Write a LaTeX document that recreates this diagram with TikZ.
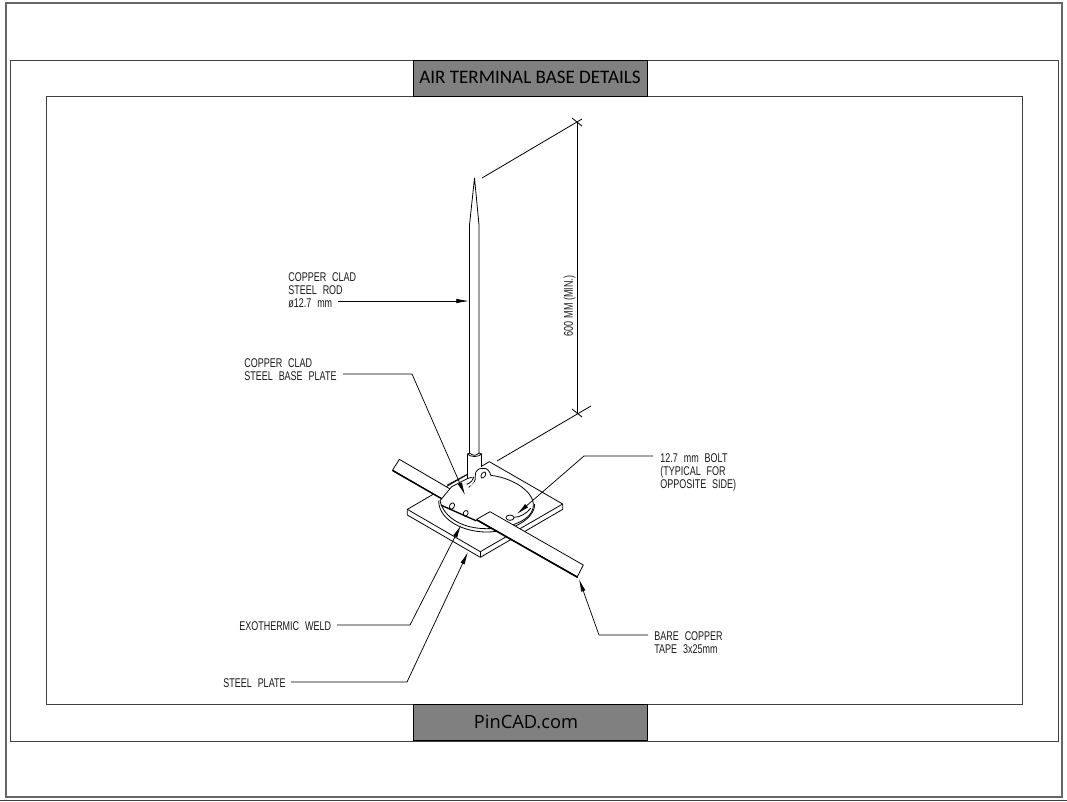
\documentclass[tikz,border=0pt]{standalone}
\usepackage{fontspec}
\usetikzlibrary{arrows.meta}
\setmainfont{Liberation Sans}
\newfontfamily\cadfont[FakeStretch=0.71,WordSpace=2.4]{Liberation Sans}
\newfontfamily\titlefont{Carlito}
\newfontfamily\sitefont{Open Sans}
\tikzset{
  frameline/.style={draw=black!75,line width=0.65pt},
  outerline/.style={draw=black!60,line width=1pt},
  titlebox/.style={draw=black,fill=black!50,line width=0.7pt,minimum width=175.5pt,minimum height=27pt,inner sep=0pt},
  callout/.style={inner sep=0pt,align=left,text=black!90,font=\cadfont\fontsize{9.5}{9.8}\selectfont},
  leader/.style={line width=0.55pt,-{Latex[length=9.5pt,width=3.4pt]}},
  part/.style={draw=black,line width=0.6pt,fill=white,line join=round},
  thin line/.style={line width=0.6pt},
  edge/.style={draw=black,line width=1pt,line cap=round}
}
\begin{document}
\begin{tikzpicture}[x=0.75pt,y=-0.75pt]
\useasboundingbox (0,0) rectangle (1067,801);

\draw[outerline] (6,3) rectangle (1062,797);
\draw[frameline] (0,800.5) -- (1067,800.5);
\draw[frameline] (10,60) rectangle (1058,741);
\draw[frameline] (46,96) rectangle (1022,704);
\node[titlebox,font=\titlefont\fontsize{14.3}{15}\selectfont] (title) at (530,78) {\raisebox{1.2pt}{AIR TERMINAL BASE DETAILS}};
\node[titlebox,font=\sitefont\fontsize{13.7}{15}\selectfont] (site) at (530,722.5) {\raisebox{0.8pt}{PinCAD.com}\hspace*{6pt}};

\begin{scope}[shift={(370,430)},x=0.25pt,y=-0.25pt]
  % steel plate
  \filldraw[part] (112,238) -- (358,95) -- (578,222) -- (578,238) -- (331,382) -- (112,255) -- cycle;
  \draw[thin line] (112,238) -- (331,365) -- (578,222);
  \draw[thin line] (331,365) -- (331,382);
  % tape, far side
  \filldraw[part] (88,88) -- (68,120) -- (260,232) -- (280,200) -- cycle;
  \draw[edge] (68,122) -- (225,212);
  % weld
  \filldraw[part] (206,212) .. controls (206,270) and (280,306) .. (350,306)
    .. controls (420,306) and (494,270) .. (494,222);
  % collar
  \fill[white] (292,72) rectangle (335,150);
  \draw[thin line] (232,165) -- (290,134);
  % base plate
  \filldraw[part] (210,212) -- (245,170) -- (292,146) -- (340,130) -- (362,136)
    .. controls (420,142) and (490,180) .. (490,225)
    .. controls (490,270) and (420,296) .. (350,296)
    .. controls (280,296) and (222,265) .. (210,212) -- cycle;
  \fill[white] (292,72) rectangle (335,140);
  \draw[thin line] (292,72) -- (292,148);
  \draw[thin line] (335,72) -- (335,112);
  \draw[thin line] (292,72) .. controls (302,82) and (325,82) .. (335,72);
  \draw[thin line] (292,72) .. controls (302,66) and (325,66) .. (335,72);
  % lug
  \filldraw[part] (296,172) .. controls (312,165) and (318,150) .. (316,135)
    .. controls (316,122) and (325,115) .. (338,115)
    .. controls (350,113) and (360,122) .. (362,136);
  \fill[white] (300,171) -- (320,150) -- (318,130) -- (362,137) -- (370,175) -- cycle;
  \draw[thin line] (290,163) .. controls (303,158) and (310,150) .. (312,140);
  \draw[thin line,rotate around={-30:(340,135)}] (340,135) ellipse (6 and 10);
  % holes and bolt
  \draw[thin line,rotate around={-25:(246,228)}] (246,228) ellipse (7 and 10);
  \draw[thin line,rotate around={-25:(287,250)}] (287,250) ellipse (7 and 9);
  \draw[thin line] (420,263) ellipse (12 and 8);
  \draw[thin line] (432,262) .. controls (450,262) and (470,250) .. (482,235);
  \draw[edge] (214,226) -- (318,272);
  % tape, near side
  \filldraw[part] (320,268) -- (360,245) -- (640,405) -- (622,440) -- cycle;
  \draw[edge] (320,270) -- (622,442);
\end{scope}

% rod
\filldraw[part] (474.5,178) -- (479,225) -- (479,453) .. controls (476,456) and (473,456) .. (469.5,453) -- (469.5,225) -- cycle;

% dimension
\coordinate (dimtop) at (577,122);
\coordinate (dimbot) at (577,413);
\draw[thin line] (482,178) -- (582,119);
\draw[thin line] (497,461) -- (591,406);
\draw[thin line] (dimtop) -- (dimbot);
\draw[thin line] (572,118) -- (582,126);
\draw[thin line] (572,409) -- (582,417);
\node[callout,rotate=90] (dimtext) at (569.5,306) {600\hspace{2.2pt}MM\hspace{2.2pt}(MIN.)};

% callouts
\node[callout,anchor=west] (rodtext) at (288,290) {COPPER CLAD\\STEEL ROD\\ø12.7 mm};
\node[callout,anchor=west] (basetext) at (244,370) {COPPER CLAD\\STEEL BASE PLATE};
\node[callout,anchor=west] (bolttext) at (660,472.5) {12.7 mm BOLT\\(TYPICAL FOR\\OPPOSITE SIDE)};
\node[callout,anchor=west] (weldtext) at (239,626) {EXOTHERMIC WELD};
\node[callout,anchor=west] (platetext) at (223,683) {STEEL PLATE};
\node[callout,anchor=west] (tapetext) at (654,643) {BARE COPPER\\TAPE 3x25mm};

\coordinate (rodstart) at (338,301);
\coordinate (rodtip) at (469,301);
\coordinate (basestart) at (343,374);
\coordinate (basebend) at (412,374);
\coordinate (basetip) at (465,495);
\coordinate (boltstart) at (653,456);
\coordinate (boltbend) at (584,456);
\coordinate (bolttip) at (517,514);
\coordinate (weldstart) at (337,625);
\coordinate (weldbend) at (410,625);
\coordinate (weldtip) at (461,525);
\coordinate (platestart) at (291,682);
\coordinate (platebend) at (407,682);
\coordinate (platetip) at (468,552);
\coordinate (tapestart) at (648,635);
\coordinate (tapebend) at (599,635);
\coordinate (tapetip) at (579,579);

\draw[leader] (rodstart) -- (rodtip);
\draw[leader] (basestart) -- (basebend) -- (basetip);
\draw[leader] (boltstart) -- (boltbend) -- (bolttip);
\draw[leader] (weldstart) -- (weldbend) -- (weldtip);
\draw[leader] (platestart) -- (platebend) -- (platetip);
\draw[leader] (tapestart) -- (tapebend) -- (tapetip);
\end{tikzpicture}
\end{document}
